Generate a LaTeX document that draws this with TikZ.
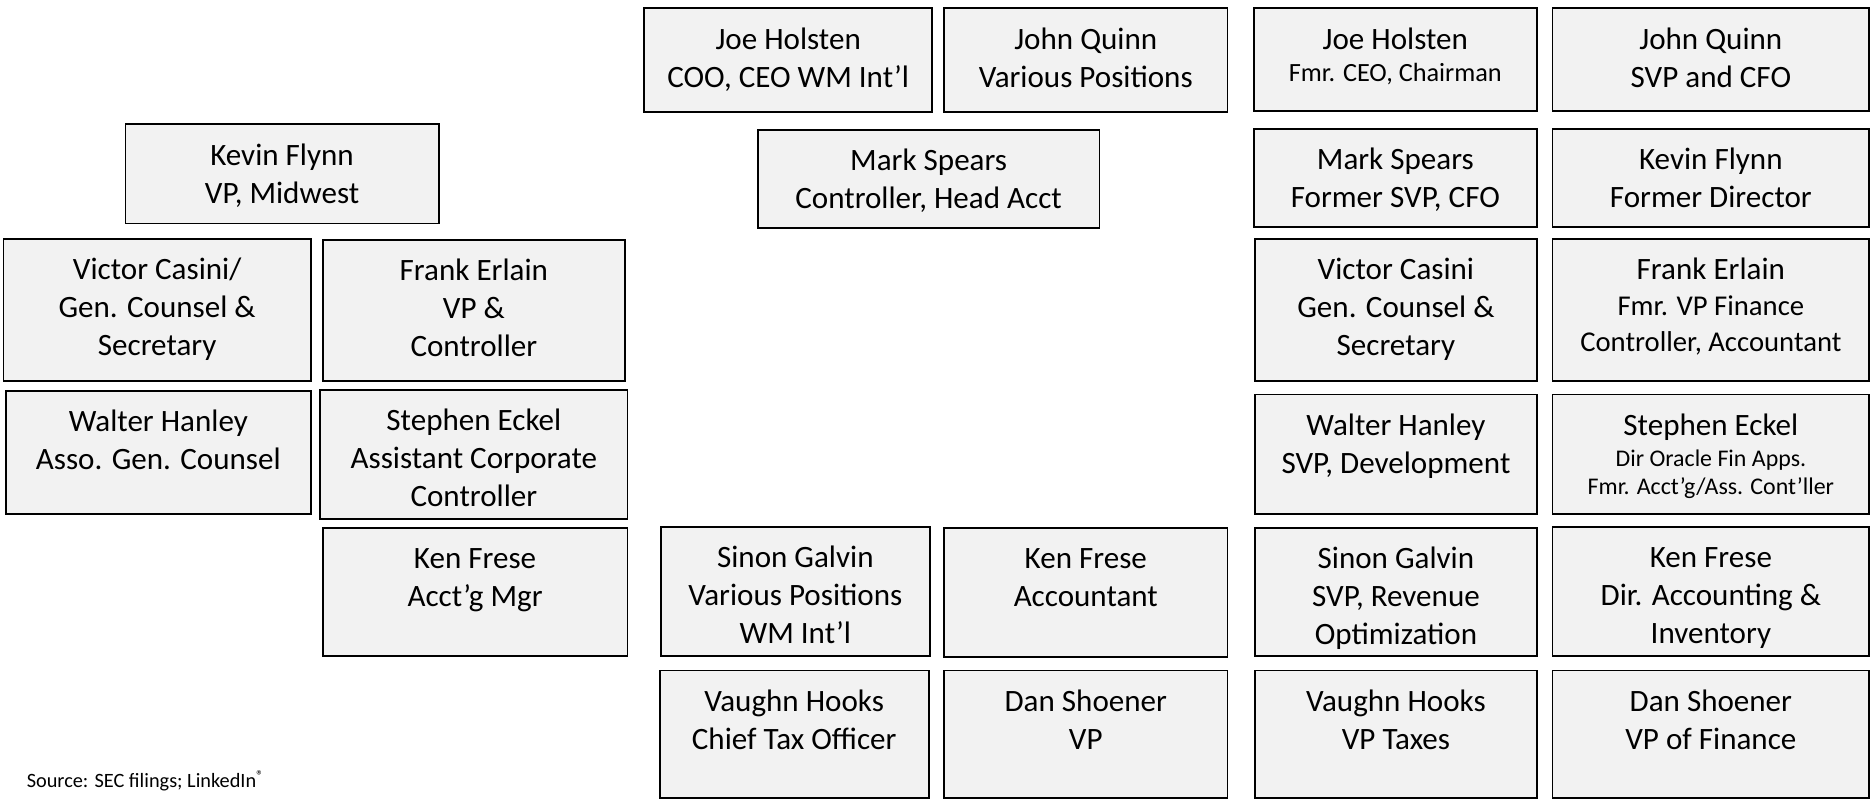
\documentclass[tikz,border=0pt]{standalone}
\usepackage{fontspec}
\setmainfont{Carlito}
\definecolor{cardfill}{HTML}{F2F2F2}
\newcommand{\cardfont}{\fontsize{13}{15.9}\selectfont}
% text of a card: width, height (in picture units), lines
\newcommand{\cardbox}[3]{\parbox[c][\dimexpr#2pt/2\relax][t]{\dimexpr#1pt/2\relax}{\centering\vspace*{5.9pt}\strut#3}}
\tikzset{
  card/.style={draw=black,line width=0.75pt,fill=cardfill,inner sep=0pt,outer sep=0pt,anchor=north west},
}
\begin{document}
\begin{tikzpicture}[x=0.5pt,y=-0.5pt,font=\cardfont]
\useasboundingbox (0,0) rectangle (1568,669);
% left group
\node[card] (flynnL) at (105,104) {\cardbox{262}{83}{Kevin Flynn\\VP, Midwest}};
\node[card] (casiniL) at (3,200) {\cardbox{257}{119}{Victor Casini/\\Gen. Counsel \&\\Secretary}};
\node[card] (erlainL) at (270,201) {\cardbox{253}{118}{Frank Erlain\\VP \&\\Controller}};
\node[card] (hanleyL) at (5,327) {\cardbox{255}{103}{Walter Hanley\\Asso. Gen. Counsel}};
\node[card] (eckelL) at (268,326) {\cardbox{257}{108}{Stephen Eckel\\Assistant Corporate\\Controller}};
\node[card] (freseL) at (270,442) {\cardbox{255}{107}{Ken Frese\\Acct’g Mgr}};
% middle group
\node[card] (holstenM) at (539,7) {\cardbox{241}{87}{Joe Holsten\\COO, CEO WM Int’l}};
\node[card] (quinnM) at (790,7) {\cardbox{237}{87}{John Quinn\\Various Positions}};
\node[card] (spearsM) at (634,109) {\cardbox{286}{82}{Mark Spears\\Controller, Head Acct}};
\node[card] (galvinM) at (553,441) {\cardbox{225}{108}{Sinon Galvin\\Various Positions\\WM Int’l}};
\node[card] (freseM) at (790,442) {\cardbox{237}{108}{Ken Frese\\Accountant}};
\node[card] (hooksM) at (552,561) {\cardbox{225}{107}{Vaughn Hooks\\Chief Tax Officer}};
\node[card] (shoenerM) at (790,561) {\cardbox{237}{107}{Dan Shoener\\VP}};
% right group
\node[card] (holstenR) at (1049,7) {\cardbox{237}{86}{Joe Holsten\\[-2.4pt]{\fontsize{11}{13.5}\selectfont Fmr. CEO, Chairman}}};
\node[card] (quinnR) at (1299,7) {\cardbox{265}{86}{John Quinn\\SVP and CFO}};
\node[card] (spearsR) at (1049,108) {\cardbox{237}{82}{Mark Spears\\Former SVP, CFO}};
\node[card] (flynnR) at (1299,108) {\cardbox{265}{82}{Kevin Flynn\\Former Director}};
\node[card] (casiniR) at (1050,200) {\cardbox{236}{119}{Victor Casini\\Gen. Counsel \&\\Secretary}};
\node[card] (erlainR) at (1299,200) {\cardbox{265}{119}{Frank Erlain\\[-0.9pt]{\fontsize{12}{15}\selectfont Fmr. VP Finance}\\[-0.9pt]{\fontsize{12}{15}\selectfont Controller, Accountant}}};
\node[card] (hanleyR) at (1050,330) {\cardbox{236}{100}{Walter Hanley\\SVP, Development}};
\node[card] (eckelR) at (1299,330) {\cardbox{265}{100}{Stephen Eckel\\[-2.9pt]{\fontsize{10}{12}\selectfont Dir Oracle Fin Apps.}\\[-3.9pt]{\fontsize{10}{12}\selectfont Fmr. Acct’g/Ass. Cont’ller}}};
\node[card] (galvinR) at (1050,442) {\cardbox{236}{107}{Sinon Galvin\\SVP, Revenue\\Optimization}};
\node[card] (freseR) at (1299,441) {\cardbox{265}{108}{Ken Frese\\Dir. Accounting \&\\Inventory}};
\node[card] (hooksR) at (1050,561) {\cardbox{236}{107}{Vaughn Hooks\\VP Taxes}};
\node[card] (shoenerR) at (1299,561) {\cardbox{265}{107}{Dan Shoener\\VP of Finance}};
% source line
\node[anchor=base west,inner sep=0pt,font=\fontsize{8.5}{10}\selectfont] (source) at (22,659) {Source: SEC filings; LinkedIn\textsuperscript{®}};
\end{tikzpicture}
\end{document}
